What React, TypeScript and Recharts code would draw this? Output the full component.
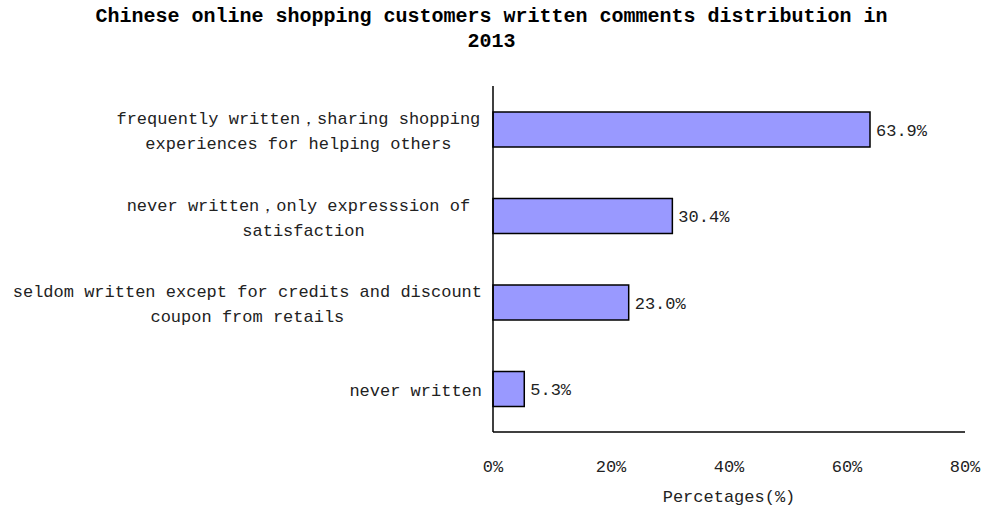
import React from 'react';
import { BarChart, Bar, XAxis, YAxis, LabelList, Label } from 'recharts';

const titleLines = ['Chinese online shopping customers written comments distribution in', '2013'];
const categories = [
  'frequently written，sharing shopping\nexperiences for helping others',
  'never written，only expresssion of \nsatisfaction',
  'seldom written except for credits and discount\ncoupon from retails',
  'never written',
];
const values = [63.9, 30.4, 23.0, 5.3];
const xTicks = [0, 20, 40, 60, 80];
const xAxisTitle = 'Percetages(%)';

const data = categories.map((c, i) => ({ category: c, value: values[i] }));

const FONT = '"Liberation Mono", "DejaVu Sans Mono", monospace';
const CHAR_W = 10.2;

const textWidth = (s: string) =>
  Array.from(s).reduce((a, ch) => a + (ch.charCodeAt(0) > 255 ? 2 : 1), 0) * CHAR_W;

const YTick = (props: any) => {
  const { x, y, payload } = props;
  const lines: string[] = String(payload.value).split('\n');
  const blockW = Math.max(...lines.map(textWidth));
  const cx = x - blockW / 2;
  const lh = 25;
  const start = y + 3 - ((lines.length - 1) * lh) / 2;
  return (
    <g>
      {lines.map((l, i) => (
        <text
          key={i}
          x={cx}
          y={start + i * lh}
          textAnchor="middle"
          dominantBaseline="central"
          fontFamily={FONT}
          fontSize={17}
          fill="#222"
          style={{ whiteSpace: 'pre' }}
        >
          {l}
        </text>
      ))}
    </g>
  );
};

const XTick = (props: any) => {
  const { x, y, payload } = props;
  return (
    <text x={x} y={y} textAnchor="middle" dominantBaseline="central" fontFamily={FONT} fontSize={17} fill="#222">
      {payload.value}%
    </text>
  );
};

export default function App() {
  return (
    <div style={{ position: 'absolute', left: 0, top: 0, width: 983, height: 508, background: '#fff' }}>
      <div
        style={{
          position: 'absolute',
          left: 0,
          top: 4,
          width: 983,
          textAlign: 'center',
          fontFamily: FONT,
          fontWeight: 'bold',
          fontSize: 20,
          lineHeight: '25px',
          color: '#000',
        }}
      >
        {titleLines.map((t, i) => (
          <div key={i}>{t}</div>
        ))}
      </div>
      <BarChart
        width={983}
        height={508}
        data={data}
        layout="vertical"
        margin={{ top: 86, right: 18, bottom: 0, left: 0 }}
        barCategoryGap={0}
      >
        <XAxis
          type="number"
          domain={[0, 80]}
          ticks={xTicks}
          tickLine={false}
          tickSize={0}
          tickMargin={35}
          axisLine={{ stroke: '#000', strokeWidth: 1.5 }}
          tick={<XTick />}
          height={76}
          interval={0}
        >
          <Label
            value={xAxisTitle}
            position="insideBottom"
            offset={6}
            style={{ fontFamily: FONT, fontSize: 17, fill: '#222' }}
          />
        </XAxis>
        <YAxis
          type="category"
          dataKey="category"
          width={493}
          tickLine={false}
          tickSize={0}
          tickMargin={11}
          axisLine={{ stroke: '#000', strokeWidth: 1.5 }}
          tick={<YTick />}
          interval={0}
        />
        <Bar dataKey="value" fill="#9999FF" stroke="#000" strokeWidth={1.5} barSize={35} isAnimationActive={false}>
          <LabelList
            dataKey="value"
            position="right"
            offset={6}
            formatter={(v: any) => `${Number(v).toFixed(1)}%`}
            style={{ fontFamily: FONT, fontSize: 17, fill: '#222' }}
          />
        </Bar>
      </BarChart>
    </div>
  );
}
